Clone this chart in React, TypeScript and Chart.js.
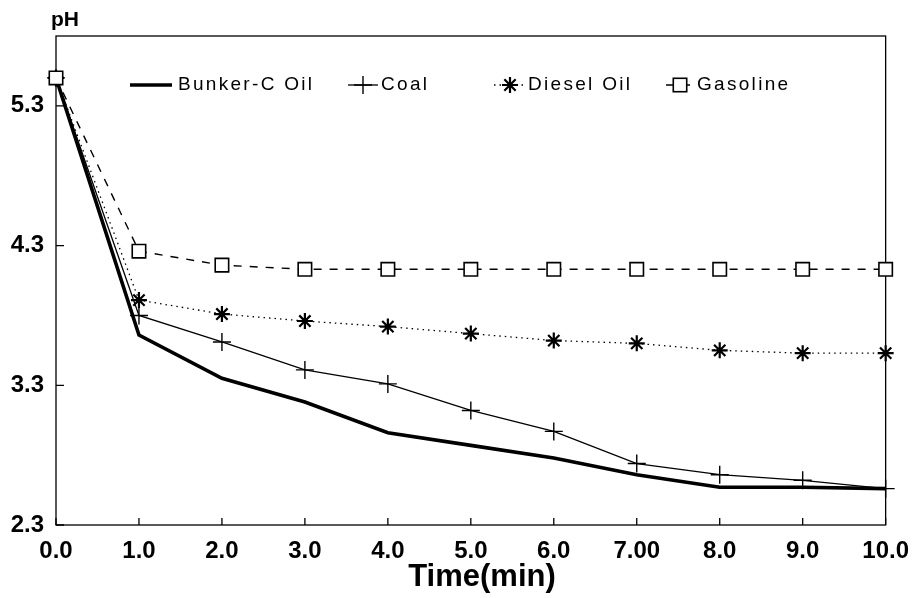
import React, { useEffect, useRef } from "react";
import { Chart, registerables } from "chart.js";

Chart.register(...registerables);

// ---- data ----
const timeMin = [0, 1, 2, 3, 4, 5, 6, 7, 8, 9, 10];
const xTickLabels = ["0.0", "1.0", "2.0", "3.0", "4.0", "5.0", "6.0", "7.00", "8.0", "9.0", "10.0"];
const yTickValues = [2.3, 3.3, 4.3, 5.3];
const bunkerCOil = [5.5, 3.66, 3.35, 3.18, 2.96, 2.87, 2.78, 2.66, 2.57, 2.57, 2.56];
const coal = [5.5, 3.8, 3.61, 3.41, 3.31, 3.12, 2.97, 2.74, 2.66, 2.62, 2.56];
const dieselOil = [5.5, 3.91, 3.81, 3.76, 3.72, 3.67, 3.62, 3.6, 3.55, 3.53, 3.53];
const gasoline = [5.5, 4.26, 4.16, 4.13, 4.13, 4.13, 4.13, 4.13, 4.13, 4.13, 4.13];
const seriesNames = ["Bunker-C Oil", "Coal", "Diesel Oil", "Gasoline"];
const xTitle = "Time(min)";
const yTitle = "pH";

const FONT = "'Liberation Sans', Arial, Helvetica, sans-serif";

function drawMarker(ctx: CanvasRenderingContext2D, style: string, x: number, y: number, r: number, lw: number) {
  ctx.save();
  ctx.setLineDash([]);
  ctx.lineWidth = lw;
  ctx.strokeStyle = "#000";
  if (style === "cross" || style === "star") {
    ctx.beginPath();
    ctx.moveTo(x - r, y);
    ctx.lineTo(x + r, y);
    ctx.moveTo(x, y - r);
    ctx.lineTo(x, y + r);
    if (style === "star") {
      const d = r * Math.SQRT1_2;
      ctx.moveTo(x - d, y - d);
      ctx.lineTo(x + d, y + d);
      ctx.moveTo(x - d, y + d);
      ctx.lineTo(x + d, y - d);
    }
    ctx.stroke();
  } else if (style === "rect") {
    const s = r * Math.SQRT1_2;
    ctx.fillStyle = "#fff";
    ctx.fillRect(x - s, y - s, 2 * s, 2 * s);
    ctx.strokeRect(x - s, y - s, 2 * s, 2 * s);
  }
  ctx.restore();
}

export default function App() {
  const ref = useRef<HTMLCanvasElement>(null);

  useEffect(() => {
    document.body.style.margin = "0";
    const canvas = ref.current!;
    const toPts = (ys: number[]) => ys.map((y, i) => ({ x: timeMin[i], y }));

    const legendLayout = [
      { x0: 130, x1: 172, mx: 151, tx: 178 },
      { x0: 348, x1: 378, mx: 363, tx: 381 },
      { x0: 494, x1: 526, mx: 510, tx: 528 },
      { x0: 666, x1: 694, mx: 680, tx: 697 },
    ];

    const decor = {
      id: "decor",
      beforeDatasetsDraw(chart: any) {
        const { ctx, chartArea: a, scales } = chart;
        ctx.save();
        ctx.strokeStyle = "#000";
        ctx.lineWidth = 1.3;
        ctx.strokeRect(a.left, a.top, a.right - a.left, a.bottom - a.top);
        ctx.beginPath();
        timeMin.forEach((v) => {
          const px = scales.x.getPixelForValue(v);
          ctx.moveTo(px, a.bottom);
          ctx.lineTo(px, a.bottom - 7);
        });
        yTickValues.forEach((v) => {
          const py = scales.y.getPixelForValue(v);
          ctx.moveTo(a.left, py);
          ctx.lineTo(a.left + 8, py);
        });
        ctx.stroke();
        ctx.restore();
      },
      afterDraw(chart: any) {
        const { ctx } = chart;
        ctx.save();
        ctx.fillStyle = "#000";
        ctx.textBaseline = "middle";
        // axis titles
        ctx.font = `bold 21px ${FONT}`;
        ctx.textAlign = "left";
        ctx.fillText(yTitle, 51, 20);
        ctx.font = `bold 31px ${FONT}`;
        ctx.textAlign = "center";
        ctx.fillText(xTitle, 482, 577);
        // legend
        const ly = 85;
        chart.data.datasets.forEach((ds: any, i: number) => {
          const L = legendLayout[i];
          ctx.save();
          ctx.strokeStyle = "#000";
          ctx.lineWidth = ds.borderWidth;
          ctx.setLineDash(ds.borderDash || []);
          ctx.beginPath();
          ctx.moveTo(L.x0, ly);
          ctx.lineTo(L.x1, ly);
          ctx.stroke();
          ctx.restore();
          if (ds.pointRadius > 0) drawMarker(ctx, ds.pointStyle, L.mx, ly, ds.pointRadius, ds.pointBorderWidth);
          ctx.fillStyle = "#000";
          ctx.font = `19px ${FONT}`;
          (ctx as any).letterSpacing = "2.3px";
          ctx.textAlign = "left";
          ctx.textBaseline = "middle";
          ctx.fillText(ds.label, L.tx, ly);
        });
        ctx.restore();
      },
    };

    const chart = new Chart(canvas, {
      type: "line",
      data: {
        datasets: [
          {
            label: seriesNames[0],
            data: toPts(bunkerCOil),
            borderColor: "#000",
            borderWidth: 3.6,
            pointRadius: 0,
            pointStyle: "line",
            clip: false,
            order: 3,
          },
          {
            label: seriesNames[1],
            data: toPts(coal),
            borderColor: "#000",
            borderWidth: 1.3,
            pointStyle: "cross",
            pointRadius: 9,
            pointBorderWidth: 1.4,
            pointBorderColor: "#000",
            clip: false,
            order: 2,
          },
          {
            label: seriesNames[2],
            data: toPts(dieselOil),
            borderColor: "#000",
            borderWidth: 1.3,
            borderDash: [1.5, 4],
            pointStyle: "star",
            pointRadius: 8,
            pointBorderWidth: 2.2,
            pointBorderColor: "#000",
            clip: false,
            order: 1,
          },
          {
            label: seriesNames[3],
            data: toPts(gasoline),
            borderColor: "#000",
            borderWidth: 1.4,
            borderDash: [8, 8],
            pointStyle: "rect",
            pointRadius: 9.5,
            pointBorderWidth: 1.6,
            pointBorderColor: "#000",
            pointBackgroundColor: "#fff",
            clip: false,
            order: 0,
          },
        ] as any,
      },
      options: {
        responsive: false,
        animation: false,
        devicePixelRatio: 1,
        layout: { padding: { top: 36, right: 28, left: 0, bottom: 0 } },
        plugins: { legend: { display: false }, tooltip: { enabled: false } },
        elements: { line: { tension: 0 } },
        scales: {
          x: {
            type: "linear",
            min: 0,
            max: 10,
            border: { display: false },
            grid: { display: false, drawTicks: false },
            afterBuildTicks: (s: any) => {
              s.ticks = timeMin.map((v) => ({ value: v }));
            },
            afterFit: (s: any) => {
              s.height = 73;
            },
            ticks: {
              autoSkip: false,
              maxRotation: 0,
              padding: 12,
              color: "#000",
              font: { family: FONT, size: 24, weight: "bold" },
              callback: (v: any) => xTickLabels[timeMin.indexOf(Number(v))],
            },
          },
          y: {
            type: "linear",
            min: 2.3,
            max: 5.8,
            border: { display: false },
            grid: { display: false, drawTicks: false },
            afterBuildTicks: (s: any) => {
              s.ticks = yTickValues.map((v) => ({ value: v }));
            },
            afterFit: (s: any) => {
              s.width = 56;
            },
            ticks: {
              padding: 12,
              color: "#000",
              font: { family: FONT, size: 24, weight: "bold" },
              callback: (v: any) => Number(v).toFixed(1),
            },
          },
        },
      } as any,
      plugins: [decor],
    });

    return () => chart.destroy();
  }, []);

  return (
    <div style={{ width: 921, height: 598, background: "#fff" }}>
      <canvas ref={ref} width={921} height={598} />
    </div>
  );
}
